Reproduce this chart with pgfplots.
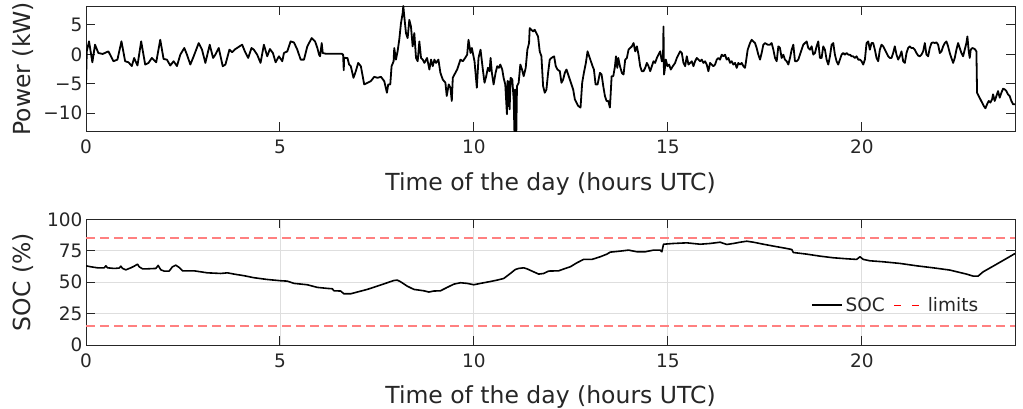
\documentclass[border=0pt]{standalone}
\usepackage{fontspec}
\setmainfont{DejaVu Sans}
\usepackage{pgfplots}
\pgfplotsset{compat=1.18}
\definecolor{axgray}{rgb}{0.15,0.15,0.15}
\definecolor{gridgray}{rgb}{0.87,0.87,0.87}
\definecolor{limred}{rgb}{1,0.5,0.5}
\begin{document}
\begin{tikzpicture}[x=1pt,y=1pt]
\useasboundingbox (0,0) rectangle (1023,409);
\pgfplotsset{
  myaxis/.style={
    scale only axis, width=929pt, height=125.5pt,
    xmin=0, xmax=23.95,
    xtick={0,5,10,15,20}, xticklabels={0,5,10,15,20},
    tick align=inside, major tick length=9pt,
    axis line style={axgray, line width=0.9pt},
    major tick style={axgray, line width=0.9pt},
    tick label style={font=\fontsize{18.5}{18.5}\selectfont, text=axgray},
    label style={font=\fontsize{23.5}{23.5}\selectfont, text=axgray},
    xticklabel style={yshift=-5pt},
    xlabel style={at={([yshift=-59pt]axis description cs:0.5,0)}, anchor=base},
    ylabel style={at={([xshift=-55pt]axis description cs:0,0.5)}, rotate=0, anchor=base},
    xlabel={Time of the day (hours UTC)},
  }
}
\begin{axis}[myaxis, at={(86pt,277.5pt)}, anchor=south west,
  ymin=-13.1, ymax=8.2, ytick={-10,-5,0,5}, yticklabels={−10,−5,0,5},
  ylabel={Power (kW)}]
\addplot[black, line width=1.8pt, line join=round] coordinates {
(0,-5.1) (0.02,0.5) (0.078,2.2) (0.164,-1.35) (0.233,1.63) (0.319,0.22) (0.431,0.06) (0.578,0.5) (0.707,-1.18) (0.81,-0.9) (0.914,2.2) (1.009,-1.18) (1.095,-1.35) (1.181,-2.0) (1.241,-0.62) (1.327,-1.9) (1.422,2.2) (1.526,-1.74) (1.612,-1.46) (1.698,-0.62) (1.81,-1.35) (1.914,2.47) (2.0,-0.79) (2.086,-0.9) (2.172,-1.9) (2.259,-1.18) (2.345,-2.0) (2.431,-0.06) (2.534,1.07) (2.603,-0.06) (2.69,-1.74) (2.776,-0.34) (2.905,1.9) (2.991,0.79) (3.077,-1.46) (3.19,1.63) (3.276,-0.62)
(3.336,-0.06) (3.422,1.07) (3.525,-2.02) (3.594,-1.74) (3.698,0.79) (3.767,0.34) (3.853,0.9) (3.896,1.07) (3.957,1.35) (4.026,1.63) (4.095,0.5) (4.181,-0.62) (4.267,1.07) (4.327,0.79) (4.413,-0.06) (4.5,-1.46) (4.586,1.63) (4.672,-0.34) (4.741,0.9) (4.819,0.22) (4.888,-1.35) (4.974,-0.34) (5.06,-1.18) (5.103,0.22) (5.189,0.5) (5.276,2.2) (5.362,2.0) (5.448,0.79) (5.534,-0.9) (5.62,-0.9) (5.706,1.35) (5.818,2.75) (5.905,2.2) (5.965,1.07) (6.008,-0.06) (6.034,-0.34) (6.077,1.9) (6.103,0.22) (6.181,0.1) (6.31,0.1) (6.439,0.1) (6.594,0.1) (6.628,-0.06) (6.645,-2.7) (6.654,-0.6) (6.74,-0.62) (6.783,-1.74)
(6.827,-2.02) (6.896,-3.99) (6.956,-2.87) (7.017,-1.46) (7.086,-2.02) (7.172,-5.11) (7.258,-4.83) (7.344,-4.55) (7.43,-3.82) (7.516,-3.99) (7.603,-3.82) (7.689,-4.55) (7.758,-6.52) (7.792,-5.11) (7.844,-5.11) (7.878,-2.02) (7.93,-1.18) (7.947,1.07) (7.99,-0.9) (8.033,0.5) (8.076,2.47) (8.12,5.28) (8.163,6.97) (8.18,8.2) (8.206,6.4) (8.249,3.6) (8.292,2.75) (8.335,5.84) (8.378,4.72) (8.421,1.35) (8.464,3.6) (8.508,-0.62) (8.551,-1.18) (8.594,2.19) (8.637,-0.62) (8.68,-0.9) (8.724,-1.46) (8.792,-0.62) (8.853,-2.58) (8.896,-0.9) (8.939,-2.02) (8.982,-0.9) (9.025,-1.46) (9.085,-0.9) (9.137,-3.15) (9.197,-4.27) (9.266,-4.83) (9.3,-7.08) (9.352,-5.11) (9.395,-5.67) (9.43,-7.92) (9.456,-3.99) (9.499,-3.43) (9.568,-2.58) (9.654,-0.9) (9.714,-1.18) (9.775,-0.62) (9.826,-0.06) (9.861,2.47) (9.913,0.22) (9.947,1.07) (10.016,-1.18) (10.076,-5.67) (10.119,-0.62) (10.171,0.79) (10.231,-2.58) (10.274,-4.83)
(10.318,-3.71) (10.361,-2.3) (10.404,-2.87) (10.43,-0.62) (10.464,-3.15) (10.508,-5.11) (10.559,-3.15) (10.602,-2.02) (10.645,-2.3) (10.68,-1.74) (10.731,-2.58) (10.766,-3.99) (10.809,-5.11) (10.852,-10.17) (10.87,-4.5) (10.886,-8.76) (10.9,-4.6) (10.921,-9.33) (10.947,-3.99) (10.99,-4.27) (11.025,-7.64) (11.045,-13.1) (11.055,-6) (11.065,-13.1) (11.075,-6) (11.085,-13.1) (11.094,-13.1) (11.111,-5.39) (11.154,-4.83) (11.197,-1.74) (11.241,-2.58) (11.284,-3.71) (11.336,-2.3) (11.379,0.79) (11.422,1.91) (11.439,4.44) (11.482,4.16) (11.525,3.88) (11.568,4.16) (11.611,3.6) (11.654,3.03) (11.697,0.5) (11.741,-0.34) (11.784,-5.39) (11.827,-6.52) (11.87,-5.96) (11.913,-3.15) (11.956,-0.9) (11.999,-0.62) (12.068,-0.34) (12.111,-2.02) (12.155,-2.58) (12.215,-2.87) (12.258,-4.83) (12.301,-4.27) (12.344,-3.15) (12.387,-2.58) (12.43,-3.43) (12.473,-4.27) (12.516,-5.11) (12.559,-5.96) (12.603,-7.64) (12.646,-8.2) (12.689,-8.76) (12.749,-9.04) (12.792,-4.83) (12.835,-3.15) (12.887,-1.46) (12.93,0.5) (12.973,-0.34) (13.016,-1.18) (13.059,-2.02) (13.094,-2.58) (13.137,-5.11) (13.189,-5.11) (13.249,-3.15) (13.292,-3.43) (13.335,-5.39) (13.378,-7.08) (13.421,-7.92) (13.464,-7.92) (13.507,-9.04) (13.551,-3.71) (13.594,-3.71) (13.637,-2.02) (13.663,-0.34) (13.697,-2.3) (13.723,-0.62) (13.766,-2.02)
(13.815,-3.15) (13.858,-3.43) (13.901,-0.9) (13.944,-0.62) (13.987,0.79) (14.03,1.07) (14.073,1.35) (14.116,1.91) (14.159,0.5) (14.202,1.35) (14.244,-0.06) (14.287,-2.02) (14.33,-2.87) (14.373,-2.87) (14.416,-2.3) (14.459,-1.46) (14.502,-2.02) (14.545,-2.87) (14.588,-2.02) (14.63,-1.18) (14.673,-1.46) (14.716,-0.62) (14.759,-0.06) (14.802,0.5) (14.845,-1.18) (14.875,-1.0) (14.888,4.72) (14.9,-3.43) (14.913,-3.0) (14.948,-0.9) (14.991,-2.02) (15.033,-1.74) (15.076,-2.58) (15.128,-2.02) (15.188,-1.46) (15.231,-0.62) (15.274,-0.06) (15.317,0.5) (15.36,0.22) (15.403,-1.46) (15.446,-2.02) (15.489,-0.34) (15.531,-1.74) (15.574,-1.46) (15.617,-1.18) (15.66,-2.02) (15.703,-1.18) (15.746,-0.62) (15.789,-0.9) (15.832,-1.18) (15.875,-0.9) (15.917,-1.46) (15.96,-1.18) (16.003,-1.74) (16.046,-2.87) (16.089,-1.46) (16.132,-1.74) (16.175,-2.02) (16.218,-1.74) (16.261,-0.9) (16.304,-0.62) (16.346,-0.9) (16.389,-0.06) (16.432,-0.34) (16.475,-0.06) (16.518,-0.9) (16.561,-0.62) (16.604,-1.46) (16.647,-1.18) (16.69,-1.74) (16.733,-1.46) (16.776,-2.3) (16.818,-1.46) (16.861,-1.74) (16.904,-1.46) (16.947,-2.02) (16.99,-2.3) (17.016,-1.18) (17.059,0.79) (17.119,1.91) (17.162,2.47) (17.205,2.19)
(17.248,1.91) (17.29,1.07) (17.333,-0.06) (17.376,-0.9) (17.419,0.22) (17.462,1.63) (17.505,1.91) (17.574,1.63) (17.634,1.63) (17.677,1.91) (17.72,0.79) (17.763,-0.62) (17.806,-1.18) (17.849,1.35) (17.891,1.07) (17.934,-0.62) (17.977,-0.06) (18.02,-0.9) (18.063,-1.18) (18.106,-1.74) (18.149,-0.62) (18.192,0.79) (18.235,1.63) (18.278,-1.18) (18.321,-1.18) (18.363,-0.9) (18.406,-0.06) (18.449,0.79) (18.492,1.63) (18.535,1.91) (18.578,2.19) (18.621,1.07) (18.664,0.79) (18.707,1.35) (18.75,-0.06) (18.793,0.22) (18.835,1.35) (18.878,2.19) (18.921,-0.62) (18.964,-0.62) (19.007,1.35) (19.05,0.79) (19.093,-0.9) (19.136,-1.74) (19.179,-0.34) (19.222,1.63) (19.265,1.91) (19.307,-0.06) (19.35,-1.18) (19.393,-1.74) (19.436,-0.9) (19.479,-0.06) (19.522,0.22) (19.565,-0.06) (19.608,0.22) (19.651,-0.06) (19.694,-0.06) (19.737,-0.34) (19.779,-0.34) (19.822,-0.62) (19.865,-0.34) (19.908,-0.9) (19.951,-0.9) (19.994,-1.18) (20.037,-1.74) (20.08,-0.9) (20.123,1.91) (20.166,2.19) (20.209,0.79) (20.251,1.91) (20.294,1.91) (20.337,0.79) (20.38,-0.62) (20.423,-1.18) (20.466,0.79) (20.509,1.63) (20.552,1.35) (20.595,0.79) (20.638,0.22) (20.681,-0.34) (20.723,-0.62)
(20.766,-0.62) (20.809,0.22) (20.852,1.35) (20.895,-0.06) (20.938,-0.9) (20.981,-0.34) (21.024,0.5) (21.067,-1.18) (21.11,-1.46) (21.153,0.22) (21.195,1.07) (21.238,1.35) (21.281,1.07) (21.324,1.07) (21.367,0.79) (21.41,0.22) (21.453,-0.22) (21.496,-0.34) (21.539,-0.06) (21.582,0.5) (21.625,1.91) (21.667,-0.06) (21.71,-0.34) (21.753,1.07) (21.796,1.91) (21.839,2.02) (21.882,1.91) (21.925,2.02) (21.968,1.63) (22.011,0.22) (22.054,0.5) (22.097,1.35) (22.139,1.91) (22.182,2.19) (22.225,1.35) (22.268,0.22) (22.311,-0.62) (22.354,-1.46) (22.397,-0.62) (22.44,0.79) (22.483,1.91) (22.526,1.07) (22.569,0.22) (22.611,-0.34) (22.654,0.79) (22.697,1.91) (22.723,3.03) (22.757,0.5) (22.783,-0.62) (22.809,0.79) (22.852,1.07) (22.912,0.9) (22.955,0.5) (22.972,-6.52) (23.015,-7.08) (23.058,-7.64) (23.101,-8.2) (23.144,-8.76) (23.187,-9.16) (23.23,-8.48) (23.273,-7.92) (23.316,-8.2) (23.359,-7.64) (23.384,-6.8) (23.427,-7.92) (23.47,-7.08) (23.513,-6.24) (23.556,-7.36) (23.599,-6.52) (23.642,-5.84) (23.685,-5.96) (23.727,-6.24) (23.77,-6.8) (23.813,-7.08) (23.856,-7.92) (23.899,-8.48) (23.951,-8.48)
};
\end{axis}
\begin{axis}[myaxis, at={(86pt,64pt)}, anchor=south west,
  ymin=0, ymax=100, ytick={0,25,50,75,100}, yticklabels={0,25,50,75,100},
  grid=major, grid style={gridgray, line width=0.8pt},
  ylabel={SOC (\%)},
  legend style={draw=none, fill=none, at={(axis description cs:0.777,0.318)}, anchor=west,
    legend columns=2, font=\fontsize{18.5}{18.5}\selectfont, text=axgray,
    nodes={inner xsep=2pt},
    /tikz/column 1/.style={column sep=1pt},
    /tikz/column 2/.style={column sep=7pt},
    /tikz/column 3/.style={column sep=6pt},
    legend cell align=left},
  legend image code/.code={\draw[#1] (0pt,0pt) -- (30pt,0pt);}]
\addplot[limred, line width=1.7pt, dash pattern=on 9pt off 5pt, forget plot] coordinates {(0,85) (23.95,85)};
\addplot[limred, line width=1.7pt, dash pattern=on 9pt off 5pt, forget plot] coordinates {(0,15) (23.95,15)};
\addplot[black, line width=1.6pt, line join=round] coordinates {
(0,63.1) (0.126,62.3) (0.298,61.5) (0.47,61.5) (0.512,63.1) (0.555,61.5) (0.727,61.0) (0.856,61.3) (0.899,62.8) (0.942,61.0) (1.028,59.9) (1.156,61.5) (1.242,62.8) (1.328,64.4) (1.371,62.3) (1.457,60.7) (1.586,60.7) (1.8,61.0) (1.86,63.4) (1.929,59.9) (2.015,58.9) (2.144,58.9) (2.229,62.3) (2.315,63.6) (2.401,61.8) (2.487,59.1) (2.787,59.1) (2.959,58.3) (3.131,57.5) (3.474,57.0) (3.645,57.5) (3.817,56.5) (4.075,55.2) (4.332,53.6) (4.675,52.2) (5.019,51.2) (5.19,50.9) (5.362,49.1) (5.706,48.0) (5.963,45.9) (6.221,45.1) (6.35,44.8) (6.392,43.2) (6.564,43.0) (6.65,40.8) (6.822,40.8) (6.994,42.2) (7.251,44.3) (7.509,46.9) (7.766,49.6) (7.938,51.4) (8.024,51.7) (8.109,50.4) (8.281,46.9) (8.453,44.3) (8.71,43.2) (8.839,42.2) (8.968,43.0) (9.139,43.2) (9.311,45.9) (9.483,48.5) (9.655,49.6) (9.826,49.1) (9.998,48.0) (10.17,49.1) (10.427,50.6) (10.599,51.7) (10.77,53.0) (10.94,57.0) (11.07,60.2) (11.154,61.0) (11.283,61.5) (11.369,60.7) (11.54,58.3) (11.669,56.5) (11.798,57.0) (11.927,58.9) (12.184,59.1) (12.356,61.0) (12.485,62.3) (12.656,65.5) (12.828,68.2) (13.043,68.2) (13.257,70.3) (13.429,72.4) (13.515,74.0) (13.772,74.8) (13.987,75.6) (14.202,74.3) (14.417,74.3) (14.631,75.6) (14.803,75.6) (14.846,74.3) (14.889,80.3) (15.146,80.9) (15.49,81.4) (15.833,80.3) (16.09,80.9) (16.348,81.9) (16.52,80.1) (16.691,80.9) (16.863,81.9) (17.035,82.7) (17.206,81.9) (17.464,80.3) (17.721,78.8) (18.065,76.9) (18.194,76.1) (18.236,73.7) (18.58,72.4) (18.923,70.8) (19.266,69.5) (19.61,68.7) (19.867,68.2) (19.953,70.3) (20.039,68.2) (20.21,67.1) (20.554,66.3) (20.983,65.0) (21.412,63.1) (21.841,61.5) (22.27,59.7) (22.699,56.5) (22.871,54.9) (23.0,54.9) (23.128,58.3) (23.386,62.8) (23.729,68.9) (23.951,72.9)
};
\addlegendentry{SOC}
\addlegendimage{legend image code/.code={\draw[red, line width=1pt, dash pattern=on 7pt off 11pt] (0pt,0pt) -- (25pt,0pt);}}
\addlegendentry{limits}
\end{axis}
\end{tikzpicture}
\end{document}
